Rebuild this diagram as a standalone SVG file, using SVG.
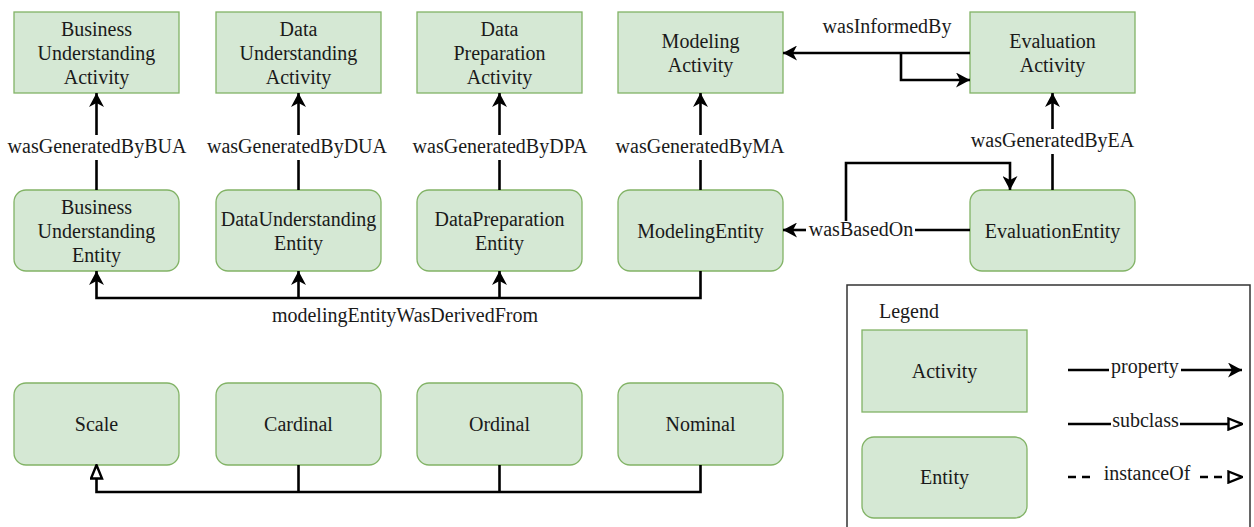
<svg xmlns="http://www.w3.org/2000/svg" width="1254" height="527" viewBox="0 0 1254 527">
  <style>
    text { font-family: "Liberation Serif", "DejaVu Serif", "Noto Serif", "Times New Roman", serif; font-size: 20px; fill: #1a1a1a; }
    .c { text-anchor: middle; }
    .act { fill: #d5e8d4; stroke: #82b366; stroke-width: 1.3; }
    .ent { fill: #d5e8d4; stroke: #82b366; stroke-width: 1.3; }
    .edge { fill: none; stroke: #000; stroke-width: 2.6; }
    .dash { stroke-dasharray: 8 6; }
    .legend-frame { fill: #fff; stroke: #333; stroke-width: 1.5; }
  </style>
  <defs>
    <marker id="arrow" viewBox="0 0 14 15" refX="14" refY="7.5" markerWidth="14" markerHeight="15" orient="auto" markerUnits="userSpaceOnUse">
      <path d="M0,0 L14,7.5 L0,15 L4,7.5 z" fill="#000"/>
    </marker>
    <marker id="hollow" viewBox="0 0 16 14" refX="15" refY="7" markerWidth="16" markerHeight="14" orient="auto" markerUnits="userSpaceOnUse">
      <path d="M1.5,1.5 L15,7 L1.5,12.5 z" fill="#fff" stroke="#000" stroke-width="2.4"/>
    </marker>
  </defs>

  <rect width="1254" height="527" fill="#fff"/>

  <!-- activities -->
  <g id="bua">
    <rect class="act" x="14" y="12" width="165" height="81"/>
    <text class="c" x="96.5" y="35.5">Business</text>
    <text class="c" x="96.5" y="59.5">Understanding</text>
    <text class="c" x="96.5" y="83.5">Activity</text>
  </g>
  <g id="dua">
    <rect class="act" x="216" y="12" width="165" height="81"/>
    <text class="c" x="298.5" y="35.5">Data</text>
    <text class="c" x="298.5" y="59.5">Understanding</text>
    <text class="c" x="298.5" y="83.5">Activity</text>
  </g>
  <g id="dpa">
    <rect class="act" x="417" y="12" width="165" height="81"/>
    <text class="c" x="499.5" y="35.5">Data</text>
    <text class="c" x="499.5" y="59.5">Preparation</text>
    <text class="c" x="499.5" y="83.5">Activity</text>
  </g>
  <g id="ma">
    <rect class="act" x="618" y="12" width="165" height="81"/>
    <text class="c" x="700.5" y="47.5">Modeling</text>
    <text class="c" x="700.5" y="71.5">Activity</text>
  </g>
  <g id="ea">
    <rect class="act" x="970" y="12" width="165" height="81"/>
    <text class="c" x="1052.5" y="47.5">Evaluation</text>
    <text class="c" x="1052.5" y="71.5">Activity</text>
  </g>

  <!-- entities -->
  <g id="bue">
    <rect class="ent" x="14" y="190" width="165" height="81" rx="12"/>
    <text class="c" x="96.5" y="213.5">Business</text>
    <text class="c" x="96.5" y="237.5">Understanding</text>
    <text class="c" x="96.5" y="261.5">Entity</text>
  </g>
  <g id="due">
    <rect class="ent" x="216" y="190" width="165" height="81" rx="12"/>
    <text class="c" x="298.5" y="225.5">DataUnderstanding</text>
    <text class="c" x="298.5" y="249.5">Entity</text>
  </g>
  <g id="dpe">
    <rect class="ent" x="417" y="190" width="165" height="81" rx="12"/>
    <text class="c" x="499.5" y="225.5">DataPreparation</text>
    <text class="c" x="499.5" y="249.5">Entity</text>
  </g>
  <g id="me">
    <rect class="ent" x="618" y="190" width="165" height="81" rx="12"/>
    <text class="c" x="700.5" y="237.5">ModelingEntity</text>
  </g>
  <g id="ee">
    <rect class="ent" x="970" y="190" width="165" height="81" rx="12"/>
    <text class="c" x="1052.5" y="237.5">EvaluationEntity</text>
  </g>

  <!-- scales -->
  <g id="scale">
    <rect class="ent" x="14" y="383" width="165" height="82" rx="12"/>
    <text class="c" x="96.5" y="431">Scale</text>
  </g>
  <g id="cardinal">
    <rect class="ent" x="216" y="383" width="165" height="82" rx="12"/>
    <text class="c" x="298.5" y="431">Cardinal</text>
  </g>
  <g id="ordinal">
    <rect class="ent" x="417" y="383" width="165" height="82" rx="12"/>
    <text class="c" x="499.5" y="431">Ordinal</text>
  </g>
  <g id="nominal">
    <rect class="ent" x="618" y="383" width="165" height="82" rx="12"/>
    <text class="c" x="700.5" y="431">Nominal</text>
  </g>

  <!-- connectors -->
  <g id="connectors">
    <!-- wasGeneratedBy* -->
    <path class="edge" d="M96.5,190 V160"/>
    <path class="edge" d="M96.5,135 V93" marker-end="url(#arrow)"/>
    <text class="c" x="97" y="153">wasGeneratedByBUA</text>

    <path class="edge" d="M298.5,190 V160"/>
    <path class="edge" d="M298.5,135 V93" marker-end="url(#arrow)"/>
    <text class="c" x="297" y="153">wasGeneratedByDUA</text>

    <path class="edge" d="M499.5,190 V160"/>
    <path class="edge" d="M499.5,135 V93" marker-end="url(#arrow)"/>
    <text class="c" x="500" y="153">wasGeneratedByDPA</text>

    <path class="edge" d="M700.5,190 V160"/>
    <path class="edge" d="M700.5,135 V93" marker-end="url(#arrow)"/>
    <text class="c" x="700" y="153">wasGeneratedByMA</text>

    <path class="edge" d="M1052.5,190 V154"/>
    <path class="edge" d="M1052.5,129 V93" marker-end="url(#arrow)"/>
    <text class="c" x="1052.5" y="147">wasGeneratedByEA</text>

    <!-- wasInformedBy -->
    <path class="edge" d="M970,53 H783" marker-end="url(#arrow)"/>
    <path class="edge" d="M901,53 V80 H970" marker-end="url(#arrow)"/>
    <text class="c" x="887" y="33">wasInformedBy</text>

    <!-- wasBasedOn -->
    <path class="edge" d="M970,230 H915"/>
    <path class="edge" d="M806,230 H783" marker-end="url(#arrow)"/>
    <path class="edge" d="M846,221 V163 H1010 V190" marker-end="url(#arrow)"/>
    <text class="c" x="861" y="236">wasBasedOn</text>

    <!-- modelingEntityWasDerivedFrom -->
    <path class="edge" d="M700.5,271 V298 H96.5 V271" marker-end="url(#arrow)"/>
    <path class="edge" d="M298.5,298 V271" marker-end="url(#arrow)"/>
    <path class="edge" d="M499.5,298 V271" marker-end="url(#arrow)"/>
    <text class="c" x="405" y="322">modelingEntityWasDerivedFrom</text>

    <!-- scale subclasses -->
    <path class="edge" d="M700.5,465 V492 H96.5 V465" marker-end="url(#hollow)"/>
    <path class="edge" d="M298.5,465 V492"/>
    <path class="edge" d="M499.5,465 V492"/>
  </g>

  <!-- legend -->
  <g id="legend">
    <rect class="legend-frame" x="847" y="285" width="403" height="260"/>
    <text x="879" y="318">Legend</text>
    <rect class="act" x="862" y="330" width="165" height="82"/>
    <text class="c" x="944.5" y="378">Activity</text>
    <rect class="ent" x="862" y="437" width="165" height="81" rx="12"/>
    <text class="c" x="944.5" y="484">Entity</text>

    <path class="edge" d="M1068,370 H1109"/>
    <path class="edge" d="M1181,370 H1242" marker-end="url(#arrow)"/>
    <text class="c" x="1145" y="373">property</text>

    <path class="edge" d="M1068,424 H1111"/>
    <path class="edge" d="M1180,424 H1242" marker-end="url(#hollow)"/>
    <text class="c" x="1145.5" y="427">subclass</text>

    <path class="edge dash" d="M1068,477 H1096"/>
    <path class="edge dash" d="M1200,477 H1242" marker-end="url(#hollow)"/>
    <text class="c" x="1147" y="480">instanceOf</text>
  </g>
</svg>
